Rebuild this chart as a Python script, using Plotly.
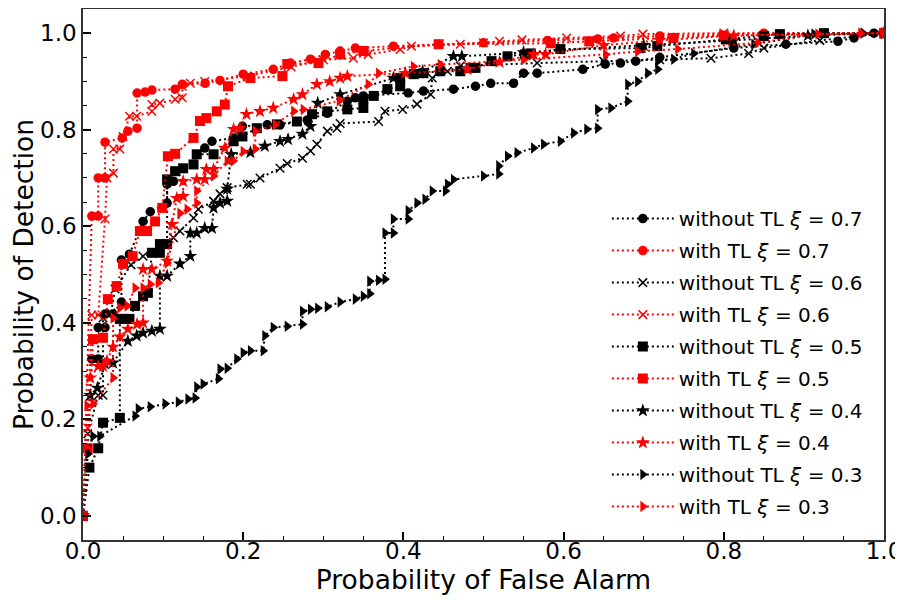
import plotly.graph_objects as go

# ROC points (Probability of False Alarm, Probability of Detection)
wo_07 = [(0.0, 0.0), (0.011, 0.325), (0.019, 0.325), (0.019, 0.39), (0.0275, 0.39), (0.0275, 0.418),
         (0.0375, 0.418), (0.048, 0.443), (0.048, 0.53), (0.058, 0.542), (0.075, 0.61), (0.084, 0.63),
         (0.105, 0.648), (0.105, 0.687), (0.113, 0.693), (0.152, 0.762), (0.161, 0.776), (0.188, 0.783),
         (0.199, 0.807), (0.23, 0.81), (0.246, 0.81), (0.28, 0.82), (0.305, 0.834), (0.33, 0.859),
         (0.34, 0.866), (0.35, 0.87), (0.406, 0.876), (0.425, 0.88), (0.4625, 0.884), (0.49, 0.89),
         (0.509, 0.896), (0.5375, 0.896), (0.55, 0.917), (0.567, 0.917), (0.624, 0.925), (0.652, 0.936),
         (0.671, 0.938), (0.69, 0.942), (0.72, 0.95), (0.8125, 0.969), (0.8775, 0.977), (0.9425, 0.983),
         (0.9625, 0.99), (0.9875, 1.0), (1.0, 1.0)]
w_07 = [(0.0, 0.0), (0.011, 0.621), (0.019, 0.621), (0.019, 0.70), (0.0275, 0.70), (0.0275, 0.774),
        (0.049, 0.783), (0.056, 0.797), (0.0675, 0.803), (0.0675, 0.876), (0.0775, 0.878), (0.086, 0.882),
        (0.115, 0.884), (0.124, 0.894), (0.1525, 0.896), (0.171, 0.902), (0.2, 0.915), (0.2375, 0.925),
        (0.259, 0.938), (0.284, 0.946), (0.3025, 0.956), (0.321, 0.963), (0.34, 0.969), (0.3875, 0.973),
        (0.444, 0.977), (0.5, 0.98), (0.58, 0.985), (0.6425, 0.988), (0.6625, 0.99), (0.72, 0.994),
        (0.85, 1.0), (1.0, 1.0)]
wo_06 = [(0.0, 0.0), (0.006, 0.17), (0.019, 0.25), (0.025, 0.25), (0.025, 0.41), (0.035, 0.42),
         (0.04, 0.47), (0.06, 0.52), (0.075, 0.538), (0.09, 0.545), (0.113, 0.576), (0.121, 0.59),
         (0.138, 0.617), (0.144, 0.635), (0.163, 0.652), (0.171, 0.667), (0.18, 0.68), (0.205, 0.687),
         (0.209, 0.687), (0.221, 0.70), (0.246, 0.72), (0.255, 0.73), (0.274, 0.741), (0.284, 0.756),
         (0.292, 0.77), (0.305, 0.797), (0.317, 0.803), (0.321, 0.813), (0.369, 0.817), (0.377, 0.838),
         (0.399, 0.842), (0.417, 0.853), (0.434, 0.873), (0.436, 0.907), (0.455, 0.921), (0.471, 0.932),
         (0.567, 0.938), (0.65, 0.942), (0.72, 0.945), (0.784, 0.948), (0.831, 0.958), (0.85, 0.969),
         (0.92, 0.985), (1.0, 1.0)]
w_06 = [(0.0, 0.0), (0.006, 0.182), (0.011, 0.416), (0.019, 0.416), (0.0275, 0.615), (0.03, 0.70),
        (0.038, 0.71), (0.038, 0.76), (0.046, 0.76), (0.05, 0.786), (0.058, 0.828), (0.067, 0.828),
        (0.086, 0.838), (0.086, 0.852), (0.096, 0.855), (0.115, 0.863), (0.124, 0.866), (0.124, 0.89),
        (0.134, 0.896), (0.152, 0.9), (0.205, 0.911), (0.26, 0.93), (0.3, 0.945), (0.3375, 0.948),
        (0.356, 0.956), (0.396, 0.966), (0.41, 0.973), (0.471, 0.977), (0.5, 0.98), (0.52, 0.983),
        (0.548, 0.986), (0.604, 0.99), (0.671, 0.994), (0.699, 0.998), (0.8, 1.0), (1.0, 1.0)]
wo_05 = [(0.0, 0.0), (0.008, 0.1), (0.019, 0.14), (0.025, 0.193), (0.046, 0.203), (0.046, 0.408),
         (0.052, 0.408), (0.058, 0.408), (0.065, 0.435), (0.075, 0.455), (0.081, 0.462), (0.086, 0.545),
         (0.096, 0.545), (0.096, 0.563), (0.105, 0.563), (0.105, 0.697), (0.115, 0.714), (0.125, 0.72),
         (0.138, 0.728), (0.142, 0.749), (0.163, 0.749), (0.188, 0.776), (0.199, 0.786), (0.217, 0.803),
         (0.242, 0.811), (0.267, 0.817), (0.286, 0.832), (0.305, 0.838), (0.33, 0.842), (0.35, 0.845),
         (0.35, 0.863), (0.363, 0.87), (0.38, 0.884), (0.396, 0.89), (0.396, 0.907), (0.413, 0.915),
         (0.425, 0.917), (0.446, 0.921), (0.471, 0.921), (0.484, 0.928), (0.49, 0.928), (0.51, 0.942),
         (0.53, 0.952), (0.552, 0.956), (0.559, 0.958), (0.596, 0.967), (0.696, 0.969), (0.717, 0.973),
         (0.8025, 0.987), (0.85, 0.994), (0.87, 0.998), (0.925, 1.0), (1.0, 1.0)]
w_05 = [(0.0, 0.0), (0.006, 0.14), (0.0125, 0.366), (0.025, 0.369), (0.031, 0.449), (0.042, 0.476),
        (0.05, 0.522), (0.062, 0.538), (0.071, 0.59), (0.08, 0.59), (0.09, 0.61), (0.099, 0.638),
        (0.106, 0.745), (0.115, 0.75), (0.138, 0.783), (0.146, 0.818), (0.154, 0.824), (0.167, 0.838),
        (0.177, 0.852), (0.181, 0.89), (0.209, 0.907), (0.249, 0.911), (0.255, 0.936), (0.294, 0.938),
        (0.321, 0.956), (0.35, 0.963), (0.444, 0.977), (0.584, 0.979), (0.632, 0.983), (0.737, 0.99),
        (0.8, 0.995), (1.0, 1.0)]
wo_04 = [(0.0, 0.0), (0.009, 0.25), (0.018, 0.265), (0.0275, 0.315), (0.0375, 0.317), (0.056, 0.362),
         (0.067, 0.373), (0.075, 0.379), (0.086, 0.383), (0.096, 0.387), (0.096, 0.497), (0.105, 0.497),
         (0.121, 0.522), (0.134, 0.538), (0.134, 0.586), (0.142, 0.586), (0.152, 0.596), (0.161, 0.596),
         (0.163, 0.638), (0.171, 0.648), (0.18, 0.652), (0.18, 0.677), (0.185, 0.749), (0.209, 0.753),
         (0.227, 0.766), (0.246, 0.776), (0.256, 0.78), (0.274, 0.791), (0.284, 0.807), (0.293, 0.855),
         (0.321, 0.873), (0.3875, 0.907), (0.424, 0.921), (0.4625, 0.952), (0.473, 0.952), (0.55, 0.96),
         (0.7, 0.975), (0.8125, 0.985), (0.905, 0.995), (1.0, 1.0)]
w_04 = [(0.0, 0.0), (0.009, 0.286), (0.019, 0.31), (0.025, 0.31), (0.03, 0.321), (0.0375, 0.35),
        (0.046, 0.371), (0.056, 0.387), (0.0675, 0.397), (0.075, 0.4), (0.075, 0.511), (0.086, 0.511),
        (0.105, 0.528), (0.111, 0.604), (0.117, 0.658), (0.125, 0.662), (0.125, 0.693), (0.142, 0.697),
        (0.152, 0.697), (0.154, 0.718), (0.163, 0.718), (0.177, 0.762), (0.188, 0.801), (0.196, 0.803),
        (0.204, 0.832), (0.221, 0.838), (0.2375, 0.845), (0.263, 0.863), (0.274, 0.873), (0.292, 0.894),
        (0.308, 0.9), (0.321, 0.907), (0.33, 0.911), (0.4025, 0.917), (0.48, 0.925), (0.52, 0.94),
        (0.5625, 0.956), (0.5775, 0.956), (0.65, 0.975), (0.72, 0.985), (0.8125, 0.995), (1.0, 1.0)]
wo_03 = [(0.0, 0.0), (0.006, 0.128), (0.0125, 0.165), (0.021, 0.165), (0.065, 0.207), (0.069, 0.222),
         (0.084, 0.226), (0.1025, 0.232), (0.119, 0.236), (0.131, 0.242), (0.14, 0.244), (0.142, 0.267),
         (0.15, 0.273), (0.169, 0.284), (0.171, 0.304), (0.18, 0.306), (0.192, 0.325), (0.2, 0.338),
         (0.209, 0.342), (0.225, 0.342), (0.227, 0.373), (0.2375, 0.39), (0.255, 0.393), (0.274, 0.397),
         (0.274, 0.424), (0.284, 0.428), (0.293, 0.43), (0.305, 0.433), (0.321, 0.443), (0.34, 0.449),
         (0.35, 0.455), (0.358, 0.46), (0.358, 0.486), (0.369, 0.488), (0.377, 0.49), (0.377, 0.586),
         (0.3875, 0.586), (0.3875, 0.615), (0.406, 0.615), (0.406, 0.632), (0.417, 0.648), (0.427, 0.656),
         (0.436, 0.673), (0.4525, 0.673), (0.455, 0.687), (0.4625, 0.697), (0.5, 0.704), (0.519, 0.708),
         (0.519, 0.725), (0.53, 0.745), (0.542, 0.752), (0.5625, 0.762), (0.575, 0.77), (0.596, 0.776),
         (0.6125, 0.793), (0.629, 0.801), (0.6425, 0.803), (0.6425, 0.842), (0.659, 0.845), (0.68, 0.859),
         (0.68, 0.894), (0.6925, 0.9), (0.705, 0.917), (0.7175, 0.925), (0.7175, 0.942), (0.7375, 0.946),
         (0.7625, 0.958), (0.8375, 0.977), (0.9125, 0.998), (0.974, 1.0), (1.0, 1.0)]
w_03 = [(0.0, 0.0), (0.005, 0.228), (0.0125, 0.232), (0.0375, 0.286), (0.0375, 0.41), (0.046, 0.431),
        (0.055, 0.435), (0.065, 0.472), (0.075, 0.472), (0.084, 0.48), (0.094, 0.483), (0.105, 0.524),
        (0.121, 0.627), (0.13, 0.635), (0.142, 0.648), (0.142, 0.673), (0.163, 0.704), (0.18, 0.735),
        (0.1875, 0.735), (0.2, 0.755), (0.215, 0.76), (0.215, 0.797), (0.24, 0.81), (0.263, 0.838),
        (0.275, 0.842), (0.32, 0.86), (0.356, 0.894), (0.369, 0.917), (0.4125, 0.931), (0.446, 0.935),
        (0.55, 0.945), (0.6525, 0.956), (0.6925, 0.962), (0.7425, 0.967), (0.8425, 0.98), (0.9175, 0.998),
        (0.971, 1.0), (1.0, 1.0)]

series_names = ["without TL <i>ξ</i> = 0.7", "with TL <i>ξ</i> = 0.7",
                "without TL <i>ξ</i> = 0.6", "with TL <i>ξ</i> = 0.6",
                "without TL <i>ξ</i> = 0.5", "with TL <i>ξ</i> = 0.5",
                "without TL <i>ξ</i> = 0.4", "with TL <i>ξ</i> = 0.4",
                "without TL <i>ξ</i> = 0.3", "with TL <i>ξ</i> = 0.3"]
series_data = [wo_07, w_07, wo_06, w_06, wo_05, w_05, wo_04, w_04, wo_03, w_03]
series_colors = ["black", "red"] * 5
series_symbols = ["circle", "circle", "x-thin", "x-thin", "square", "square",
                  "star", "star", "triangle-right", "triangle-right"]
symbol_sizes = {"circle": 9.5, "x-thin": 8.5, "square": 10, "star": 10.5, "triangle-right": 10}

fig = go.Figure()
for name, data, color, sym in zip(series_names, series_data, series_colors, series_symbols):
    xs = [p[0] for p in data]
    ys = [p[1] for p in data]
    marker = dict(symbol=sym, size=symbol_sizes[sym], color=color)
    if sym == "x-thin":
        marker["line"] = dict(color=color, width=1.5)
    else:
        marker["line"] = dict(width=0)
    fig.add_trace(go.Scatter(
        x=xs, y=ys, name=name, mode="lines+markers", legendgroup=name,
        line=dict(color=color, width=2, dash="2px,3px"),
        marker=marker,
    ))

axis_common = dict(
    showgrid=False, zeroline=False, showline=True, linecolor="#333", linewidth=1.5,
    mirror=True, ticks="inside", ticklen=8, tickwidth=1.5, tickcolor="black",
    tickfont=dict(family="DejaVu Sans", size=23, color="black"),
    title_font=dict(family="DejaVu Sans", size=26.5, color="black"),
    dtick=0.2, tickformat=".1f", automargin=False,
    minor=dict(ticks="inside", ticklen=4, tickwidth=1.2, dtick=0.05, tickcolor="black"),
)

fig.update_xaxes(range=[0, 1], title_text="Probability of False Alarm", title_standoff=2,
                 ticklabelstandoff=-10, **axis_common)
fig.update_yaxes(range=[-0.05, 1.05], title_text="Probability of Detection", title_standoff=8,
                 **axis_common)

fig.update_layout(
    width=895, height=592,
    margin=dict(l=75, r=19, t=1, b=60),
    plot_bgcolor="white", paper_bgcolor="white",
    font=dict(family="DejaVu Sans", color="black"),
    legend=dict(x=0.654, y=0.642, xanchor="left", yanchor="top",
                font=dict(family="DejaVu Sans", size=20, color="black"),
                bgcolor="rgba(255,255,255,0)", borderwidth=0,
                tracegroupgap=3, itemwidth=62),
)

fig.write_html("out.html")
